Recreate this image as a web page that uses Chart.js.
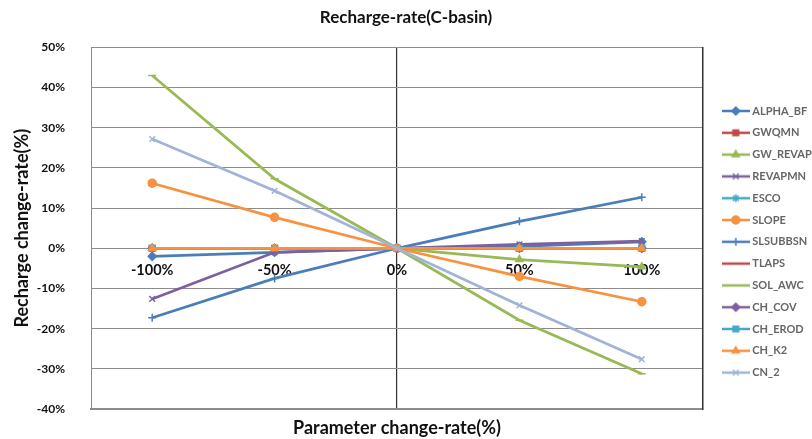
<!DOCTYPE html>
<html>
<head>
<meta charset="utf-8">
<title>Recharge-rate(C-basin)</title>
<script src="https://cdn.jsdelivr.net/npm/chart.js@4.4.0/dist/chart.umd.min.js"></script>
<style>
  html, body { margin: 0; padding: 0; background: #fff; }
</style>
</head>
<body>
<canvas id="lineChart" width="812" height="439"></canvas>
<script>
// parameter change-rate categories
const categories = ['-100%', '-50%', '0%', '50%', '100%'];

// recharge change-rate (%) per parameter
const alphaBf  = [-2.0, -1.0, 0, 0.5, 1.6];
const gwqmn    = [0, 0, 0, 0, 0];
const gwRevap  = [0, 0, 0, -2.8, -4.6];
const revapmn  = [-12.6, -1.0, 0, 1.0, 1.8];
const esco     = [0, 0, 0, 0, 0];
const slope    = [16.2, 7.7, 0, -7.0, -13.3];
const slsubbsn = [-17.3, -7.5, 0, 6.7, 12.7];
const tlaps    = [0, 0, 0, 0, 0];
const solAwc   = [43.0, 17.3, 0, -17.9, -31.2];
const chCov    = [0, 0, 0, 0, 0];
const chErod   = [0, 0, 0, 0, 0];
const chK2     = [0, 0, 0, 0, 0];
const cn2      = [27.2, 14.3, 0, -14.2, -27.6];

// y axis tick labels
const yTickValues = [-40, -30, -20, -10, 0, 10, 20, 30, 40, 50];

const seriesNames  = ['ALPHA_BF', 'GWQMN', 'GW_REVAP', 'REVAPMN', 'ESCO', 'SLOPE', 'SLSUBBSN',
                      'TLAPS', 'SOL_AWC', 'CH_COV', 'CH_EROD', 'CH_K2', 'CN_2'];
const seriesValues = [alphaBf, gwqmn, gwRevap, revapmn, esco, slope, slsubbsn,
                      tlaps, solAwc, chCov, chErod, chK2, cn2];
const seriesColors = ['#4A7EBB', '#BE4B48', '#98B954', '#7D60A0', '#46AAC5', '#F69240', '#4A7EBB',
                      '#BE4B48', '#98B954', '#7D60A0', '#46AAC5', '#F69240', '#A2B4D6'];
const seriesMarks  = ['rectRot', 'rect', 'triangle', 'crossRot', 'star', 'circle', 'cross',
                      'line', 'line', 'rectRot', 'rect', 'triangle', 'crossRot'];

const FONT = 'Lato, "Liberation Sans", Arial, sans-serif';

// small "line + marker" picture for the legend
function legendIcon(color, mark) {
    const c = document.createElement('canvas');
    c.width = 28; c.height = 12;
    const g = c.getContext('2d');
    g.strokeStyle = color;
    g.fillStyle = color;
    g.lineWidth = 2.5;
    g.beginPath(); g.moveTo(0, 6); g.lineTo(28, 6); g.stroke();
    g.lineWidth = 1.5;
    Chart.helpers.drawPoint(g, { pointStyle: mark, radius: 4, rotation: 0, borderWidth: 1.5 }, 14, 6);
    return c;
}

const n = seriesNames.length;
const datasets = seriesNames.map((name, i) => ({
    label: name,
    data: seriesValues[i],
    borderColor: seriesColors[i],
    backgroundColor: seriesColors[i],
    borderWidth: 2.75,
    pointStyle: seriesMarks[i],
    pointRadius: 4,
    pointBorderWidth: 1.5,
    tension: 0,
    order: n - 1 - i   // later series drawn on top, like the original
}));

const ctx = document.getElementById('lineChart').getContext('2d');
const lineChart = new Chart(ctx, {
    type: 'line',
    data: { labels: categories, datasets: datasets },
    options: {
        responsive: false,
        animation: false,
        layout: { padding: 0 },
        plugins: {
            title: {
                display: true,
                text: 'Recharge-rate(C-basin)',
                color: '#111',
                font: { family: FONT, size: 17, weight: 'bold' },
                padding: { top: 7, bottom: 20 }
            },
            tooltip: { enabled: false },
            legend: {
                position: 'right',
                align: 'start',
                maxWidth: 98,
                title: { display: true, text: '', padding: { top: 80.3, bottom: 0 }, font: { size: 12 } },
                labels: {
                    usePointStyle: true,
                    pointStyleWidth: 22,
                    padding: 10.8,
                    color: '#111',
                    font: { family: FONT, size: 11, weight: 'bold' },
                    generateLabels: chart => chart.data.datasets.map((ds, i) => ({
                        text: ds.label,
                        pointStyle: legendIcon(ds.borderColor, ds.pointStyle),
                        fillStyle: ds.borderColor,
                        strokeStyle: ds.borderColor,
                        lineWidth: 0,
                        hidden: false,
                        datasetIndex: i
                    }))
                }
            }
        },
        scales: {
            x: {
                type: 'category',
                position: 'bottom',
                offset: true,
                afterFit: axis => { axis.height = 30; },
                grid: {
                    offset: false,
                    drawTicks: false,
                    lineWidth: 1.2,
                    color: c => c.index === 2 ? '#333' : 'rgba(0,0,0,0)'
                },
                border: { color: '#8c8c8c', width: 2 },
                ticks: { display: false },
                title: {
                    display: true,
                    text: 'Parameter change-rate(%)',
                    color: '#111',
                    font: { family: FONT, size: 18, weight: 'bold' },
                    padding: { top: 0, bottom: 0 }
                }
            },
            xMid: {
                type: 'category',
                axis: 'x',
                position: { y: 0 },
                offset: true,
                afterFit: axis => { axis.height = 0; },
                grid: { display: false, drawTicks: false },
                border: { display: false },
                ticks: {
                    padding: 13,
                    color: '#111',
                    maxRotation: 0,
                    font: { family: FONT, size: 14.5, weight: 'bold' }
                }
            },
            y: {
                min: -40,
                max: 50,
                afterBuildTicks: axis => { axis.ticks = yTickValues.map(v => ({ value: v })); },
                afterFit: axis => {
                    axis.width = 91;
                    axis.paddingTop = 8;
                    axis.paddingBottom = 8;
                },
                grid: { color: '#8c8c8c', lineWidth: 1, drawTicks: false },
                border: { color: '#8c8c8c', width: 1 },
                ticks: {
                    padding: 26,
                    color: '#111',
                    font: { family: FONT, size: 12, weight: 'bold' },
                    callback: v => v + '%'
                },
                title: {
                    display: true,
                    text: 'Recharge change-rate(%)',
                    color: '#111',
                    font: { family: FONT, size: 18, weight: 'bold' },
                    padding: { top: 11, bottom: 7 }
                }
            },
            yRight: {
                position: 'right',
                grid: { display: false, drawTicks: true, tickLength: 11 },
                border: { color: '#333', width: 1.5 },
                ticks: { display: false }
            }
        }
    }
});
</script>
</body>
</html>
